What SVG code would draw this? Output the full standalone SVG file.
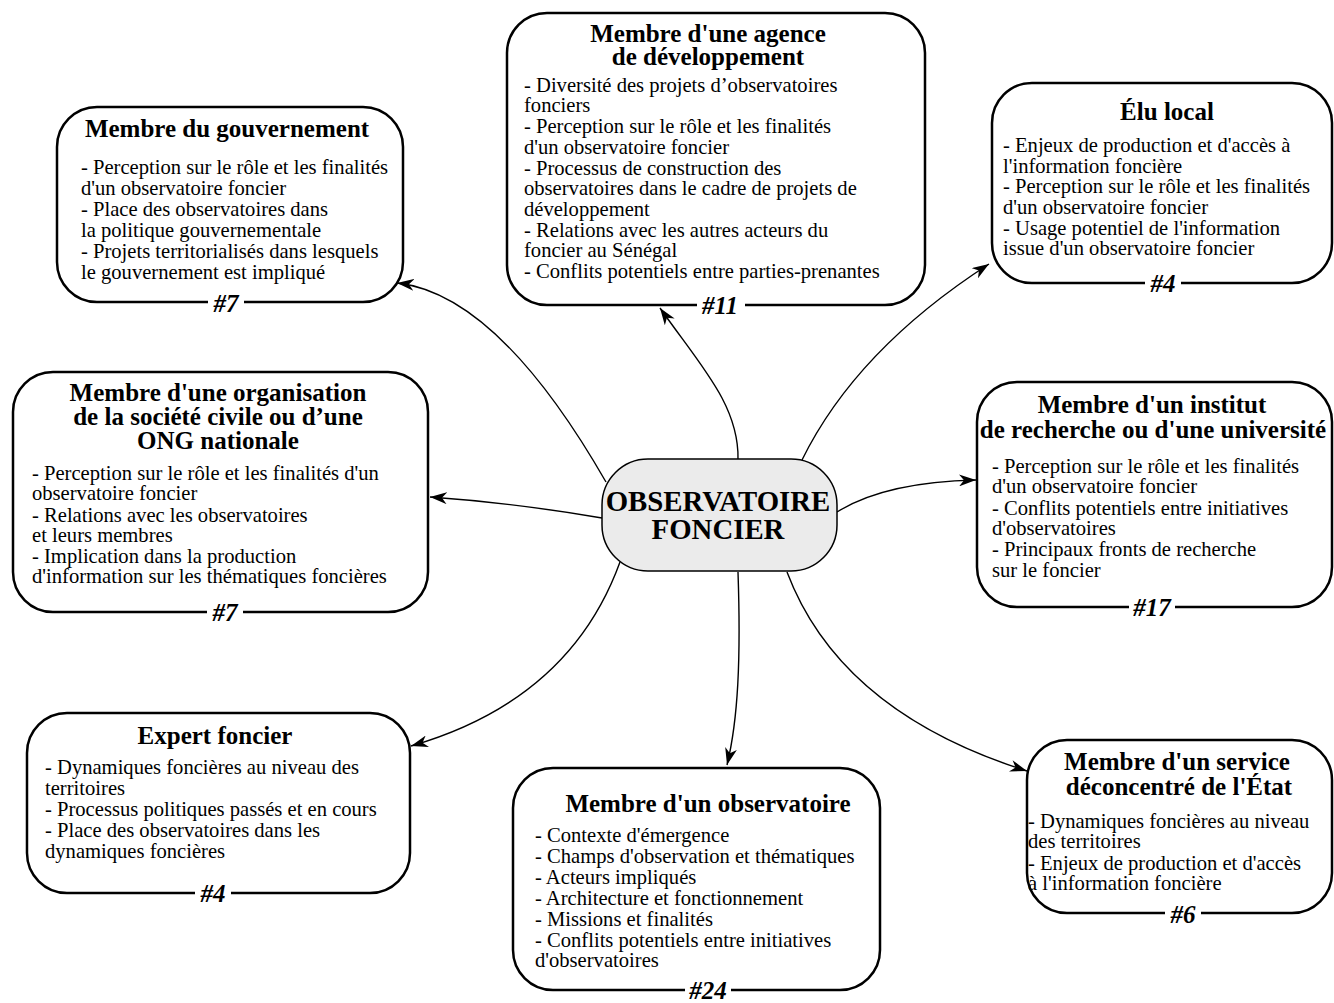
<svg xmlns="http://www.w3.org/2000/svg" width="1334" height="1003" viewBox="0 0 1334 1003">
<style>
.box{fill:#fff;stroke:#000;stroke-width:2.5}
.core{fill:#ebebeb;stroke:#000;stroke-width:1.5}
.t{font-family:"Liberation Serif","Times New Roman",serif;font-weight:bold;font-size:25px;text-anchor:middle;fill:#000}
.b{font-family:"Liberation Serif","Times New Roman",serif;font-size:20.6px;fill:#000}
.n{font-family:"Liberation Serif","Times New Roman",serif;font-weight:bold;font-style:italic;font-size:25px;text-anchor:middle;fill:#000}
.c{font-family:"Liberation Serif","Times New Roman",serif;font-weight:bold;font-size:28.8px;text-anchor:middle;fill:#000}
.lab{fill:#fff}
.e{fill:none;stroke:#000;stroke-width:1.4;marker-end:url(#ah)}
</style>
<defs>
<marker id="ah" viewBox="0 0 17 12" refX="17" refY="6" markerWidth="17" markerHeight="12" markerUnits="userSpaceOnUse" orient="auto">
<path d="M0,0 L17,6 L0,12 L5,6 z" fill="#000"/>
</marker>
</defs>
<rect width="1334" height="1003" fill="#fff"/>

<g id="connectors">
<path class="e" d="M606,482 Q498,294 397,283"/>
<path class="e" d="M738,459 C739,405 700,365 660,308"/>
<path class="e" d="M802,460 Q856,350 989,264"/>
<path class="e" d="M602,518 Q515,503 430,497"/>
<path class="e" d="M837,512 Q885,482 976,480"/>
<path class="e" d="M620,562 Q570,700 411,746"/>
<path class="e" d="M738,572 C741,660 738,720 727,765"/>
<path class="e" d="M787,572 Q840,712 1027,771"/>
</g>

<g id="node-gouvernement">
<rect class="box" x="57" y="107" width="346" height="195" rx="40"/>
<rect class="lab" x="208" y="290" width="36" height="26"/>
<text class="t" x="227" y="137">Membre du gouvernement</text>
<text class="b" x="81" y="174">- Perception sur le rôle et les finalités</text>
<text class="b" x="81" y="195">d'un observatoire foncier</text>
<text class="b" x="81" y="216">- Place des observatoires dans</text>
<text class="b" x="81" y="237">la politique gouvernementale</text>
<text class="b" x="81" y="258">- Projets territorialisés dans lesquels</text>
<text class="b" x="81" y="279">le gouvernement est impliqué</text>
<text class="n" x="226" y="312">#7</text>
</g>

<g id="node-agence">
<rect class="box" x="507" y="13" width="418" height="292" rx="40"/>
<rect class="lab" x="697" y="293" width="48" height="26"/>
<text class="t" x="708" y="42">Membre d'une agence</text>
<text class="t" x="708" y="65">de développement</text>
<text class="b" x="524" y="92">- Diversité des projets d’observatoires</text>
<text class="b" x="524" y="112">fonciers</text>
<text class="b" x="524" y="133">- Perception sur le rôle et les finalités</text>
<text class="b" x="524" y="154">d'un observatoire foncier</text>
<text class="b" x="524" y="175">- Processus de construction des</text>
<text class="b" x="524" y="195">observatoires dans le cadre de projets de</text>
<text class="b" x="524" y="216">développement</text>
<text class="b" x="524" y="237">- Relations avec les autres acteurs du</text>
<text class="b" x="524" y="257">foncier au Sénégal</text>
<text class="b" x="524" y="278">- Conflits potentiels entre parties-prenantes</text>
<text class="n" x="720" y="314">#11</text>
</g>

<g id="node-elu">
<rect class="box" x="992" y="83" width="340" height="200" rx="40"/>
<rect class="lab" x="1145" y="271" width="36" height="26"/>
<text class="t" x="1167" y="120">Élu local</text>
<text class="b" x="1003" y="152">- Enjeux de production et d'accès à</text>
<text class="b" x="1003" y="173">l'information foncière</text>
<text class="b" x="1003" y="193">- Perception sur le rôle et les finalités</text>
<text class="b" x="1003" y="214">d'un observatoire foncier</text>
<text class="b" x="1003" y="235">- Usage potentiel de l'information</text>
<text class="b" x="1003" y="255">issue d'un observatoire foncier</text>
<text class="n" x="1163" y="292">#4</text>
</g>

<g id="node-organisation">
<rect class="box" x="13" y="372" width="415" height="240" rx="40"/>
<rect class="lab" x="207" y="600" width="36" height="26"/>
<text class="t" x="218" y="401">Membre d'une organisation</text>
<text class="t" x="218" y="425">de la société civile ou d’une</text>
<text class="t" x="218" y="449">ONG nationale</text>
<text class="b" x="32" y="480">- Perception sur le rôle et les finalités d'un</text>
<text class="b" x="32" y="500">observatoire foncier</text>
<text class="b" x="32" y="522">- Relations avec les observatoires</text>
<text class="b" x="32" y="542">et leurs membres</text>
<text class="b" x="32" y="563">- Implication dans la production</text>
<text class="b" x="32" y="583">d'information sur les thématiques foncières</text>
<text class="n" x="225" y="621">#7</text>
</g>

<g id="node-institut">
<rect class="box" x="977" y="382" width="355" height="225" rx="40"/>
<rect class="lab" x="1129" y="595" width="46" height="26"/>
<text class="t" x="1152" y="413">Membre d'un institut</text>
<text class="t" x="1153" y="438">de recherche ou d'une université</text>
<text class="b" x="992" y="473">- Perception sur le rôle et les finalités</text>
<text class="b" x="992" y="493">d'un observatoire foncier</text>
<text class="b" x="992" y="515">- Conflits potentiels entre initiatives</text>
<text class="b" x="992" y="535">d'observatoires</text>
<text class="b" x="992" y="556">- Principaux fronts de recherche</text>
<text class="b" x="992" y="577">sur le foncier</text>
<text class="n" x="1152" y="616">#17</text>
</g>

<g id="node-centre">
<rect class="core" x="602" y="459" width="235" height="112" rx="46"/>
<text class="c" x="718" y="511">OBSERVATOIRE</text>
<text class="c" x="718" y="539">FONCIER</text>
</g>

<g id="node-expert">
<rect class="box" x="27" y="713" width="383" height="180" rx="40"/>
<rect class="lab" x="195" y="881" width="36" height="26"/>
<text class="t" x="215" y="744">Expert foncier</text>
<text class="b" x="45" y="774">- Dynamiques foncières au niveau des</text>
<text class="b" x="45" y="795">territoires</text>
<text class="b" x="45" y="816">- Processus politiques passés et en cours</text>
<text class="b" x="45" y="837">- Place des observatoires dans les</text>
<text class="b" x="45" y="858">dynamiques foncières</text>
<text class="n" x="213" y="902">#4</text>
</g>

<g id="node-observatoire">
<rect class="box" x="513" y="768" width="367" height="222" rx="40"/>
<rect class="lab" x="685" y="978" width="46" height="26"/>
<text class="t" x="708" y="812">Membre d'un observatoire</text>
<text class="b" x="535" y="842">- Contexte d'émergence</text>
<text class="b" x="535" y="863">- Champs d'observation et thématiques</text>
<text class="b" x="535" y="884">- Acteurs impliqués</text>
<text class="b" x="535" y="905">- Architecture et fonctionnement</text>
<text class="b" x="535" y="926">- Missions et finalités</text>
<text class="b" x="535" y="947">- Conflits potentiels entre initiatives</text>
<text class="b" x="535" y="967">d'observatoires</text>
<text class="n" x="708" y="999">#24</text>
</g>

<g id="node-service">
<rect class="box" x="1027" y="740" width="305" height="173" rx="40"/>
<rect class="lab" x="1165" y="901" width="36" height="26"/>
<text class="t" x="1177" y="770">Membre d'un service</text>
<text class="t" x="1179" y="795">déconcentré de l'État</text>
<text class="b" x="1028" y="828">- Dynamiques foncières au niveau</text>
<text class="b" x="1028" y="848">des territoires</text>
<text class="b" x="1028" y="870">- Enjeux de production et d'accès</text>
<text class="b" x="1028" y="890">à l'information foncière</text>
<text class="n" x="1183" y="923">#6</text>
</g>
</svg>
